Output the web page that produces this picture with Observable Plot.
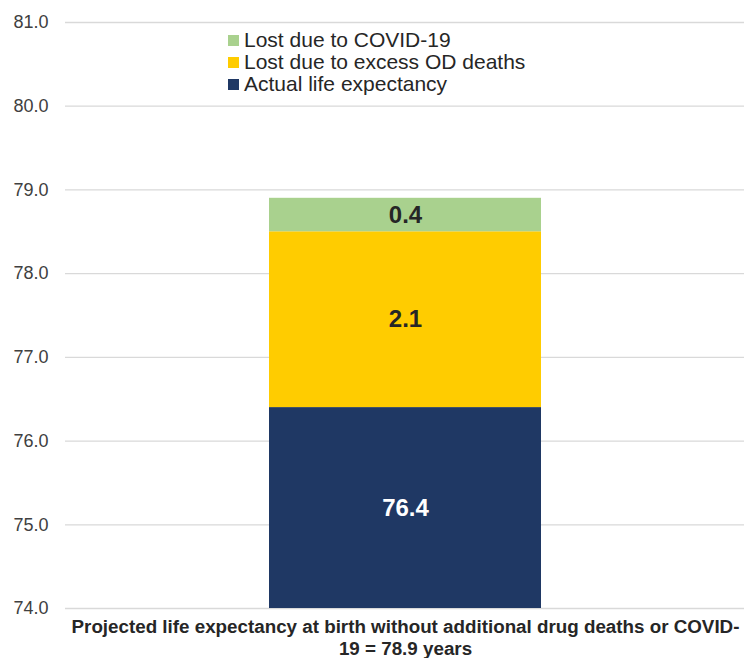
<!DOCTYPE html>
<html>
<head>
<meta charset="utf-8">
<script src="https://cdn.jsdelivr.net/npm/d3@7"></script>
<script src="https://cdn.jsdelivr.net/npm/@observablehq/plot@0.6"></script>
<style>
  html, body { margin: 0; padding: 0; background: #fff; }
  #chart { position: relative; width: 744px; height: 658px; font-family: "Liberation Sans", Arial, sans-serif; }
  #legend { position: absolute; left: 228px; top: 29px; font-size: 21px; color: #262626; line-height: 22px; }
  #legend .row { display: flex; align-items: center; white-space: nowrap; }
  #legend .sw { width: 11px; height: 11px; margin-right: 5px; flex: none; }
</style>
</head>
<body>
<div id="chart"></div>
<script>
// Life expectancy components (years)
const components = ["Actual life expectancy", "Lost due to excess OD deaths", "Lost due to COVID-19"];
const values = [76.4, 2.1, 0.4];
const colors = ["#1f3864", "#ffcc00", "#a9d18e"];
const labelColors = ["#ffffff", "#262626", "#262626"];
const legendOrder = ["Lost due to COVID-19", "Lost due to excess OD deaths", "Actual life expectancy"];
const category = "Projected life expectancy at birth without additional drug deaths or COVID-\n19 = 78.9 years";
const yDomain = [74, 81];
const yTicks = [74, 75, 76, 77, 78, 79, 80, 81];

const rows = components.map((c, i) => ({cat: category, comp: c, value: values[i], order: i}));

// label position: middle of the visible part of each stacked segment
let acc = 0;
const labelRows = rows.map(r => {
  const lo = acc, hi = acc + r.value;
  acc = hi;
  return {...r, mid: (Math.max(lo, yDomain[0]) + Math.min(hi, yDomain[1])) / 2};
});

const chart = Plot.plot({
  width: 744,
  height: 658,
  marginTop: 22,
  marginBottom: 50,
  marginLeft: 65,
  marginRight: 0,
  style: {fontFamily: "Liberation Sans, Arial, sans-serif", background: "#fff", overflow: "visible"},
  x: {domain: [category], padding: 0.428, label: null},
  y: {domain: yDomain, label: null},
  color: {domain: components, range: colors},
  marks: [
    Plot.gridY(yTicks, {stroke: "#d9d9d9", strokeOpacity: 1, strokeWidth: 1.3}),
    Plot.axisY(yTicks, {tickSize: 0, tickPadding: 17, tickFormat: d3.format(".1f"), fontSize: 18, fill: "#404040", label: null}),
    Plot.axisX({tickSize: 0, tickPadding: 10, fontSize: 18.8, fontWeight: "bold", fill: "#262626", lineHeight: 1.12, label: null}),
    Plot.barY(rows, Plot.stackY({x: "cat", y: "value", fill: "comp", order: "order", clip: true})),
    Plot.text(labelRows, {
      x: "cat", y: "mid", text: d => d3.format(".1f")(d.value),
      fill: d => labelColors[d.order], fontSize: 24, fontWeight: "bold"
    })
  ]
});

const container = document.getElementById("chart");
container.appendChild(chart);

const legend = document.createElement("div");
legend.id = "legend";
for (const name of legendOrder) {
  const row = document.createElement("div");
  row.className = "row";
  const sw = document.createElement("span");
  sw.className = "sw";
  sw.style.background = colors[components.indexOf(name)];
  const label = document.createElement("span");
  label.textContent = name;
  row.append(sw, label);
  legend.appendChild(row);
}
container.appendChild(legend);
</script>
</body>
</html>
